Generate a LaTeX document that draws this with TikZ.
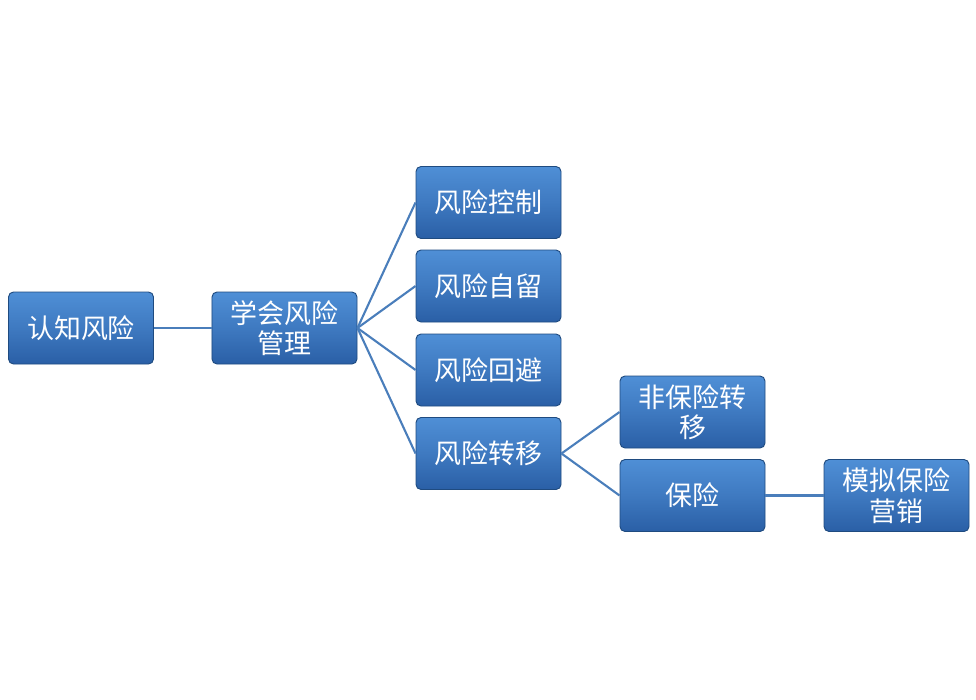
\documentclass[tikz,border=0pt]{standalone}
\usepackage{fontspec}
\newfontfamily\cjk{Noto Sans CJK SC}
\usepackage{tikz}
\definecolor{boxtop}{HTML}{4F8FD6}
\definecolor{boxbottom}{HTML}{2A5FA6}
\definecolor{boxedge}{HTML}{1F4B80}
\definecolor{linkblue}{HTML}{4A7EBB}
\begin{document}
\begin{tikzpicture}[x=0.03cm,y=-0.03cm,
	riskbox/.style={draw=boxedge,line width=0.8pt,rounded corners=0.15cm,
		top color=boxtop,bottom color=boxbottom,middle color=boxtop!55!boxbottom,
		minimum width=4.35cm,minimum height=2.16cm,align=center,text=white,
		font=\cjk\fontsize{23}{26}\selectfont,inner sep=0pt},
	link/.style={draw=linkblue,line width=1.8pt}]

		\useasboundingbox (0,0) rectangle (976,700);

		\node (KnowRisk) at (81,328) [riskbox]{认知风险};
		\node (LearnManage) at (284.5,328) [riskbox]{学会风险\\管理};

		\node (Control) at (488.5,202.5) [riskbox]{风险控制};
		\node (Retain) at (488.5,286) [riskbox]{风险自留};
		\node (Avoid) at (488.5,370) [riskbox]{风险回避};
		\node (Transfer) at (488.5,453.5) [riskbox]{风险转移};

		\node (NonInsure) at (692.5,412) [riskbox]{非保险转\\移};
		\node (Insure) at (692.5,495.5) [riskbox]{保险};

		\node (SimMarket) at (896.5,495.5) [riskbox]{模拟保险\\营销};

		\draw [link] (KnowRisk.east) -- (LearnManage.west);

		\draw [link] (LearnManage.east) -- (Control.west);
		\draw [link] (LearnManage.east) -- (Retain.west);
		\draw [link] (LearnManage.east) -- (Avoid.west);
		\draw [link] (LearnManage.east) -- (Transfer.west);

		\draw [link] (Transfer.east) -- (NonInsure.west);
		\draw [link] (Transfer.east) -- (Insure.west);

		\draw [link] (Insure.east) -- (SimMarket.west);
	\end{tikzpicture}
\end{document}
